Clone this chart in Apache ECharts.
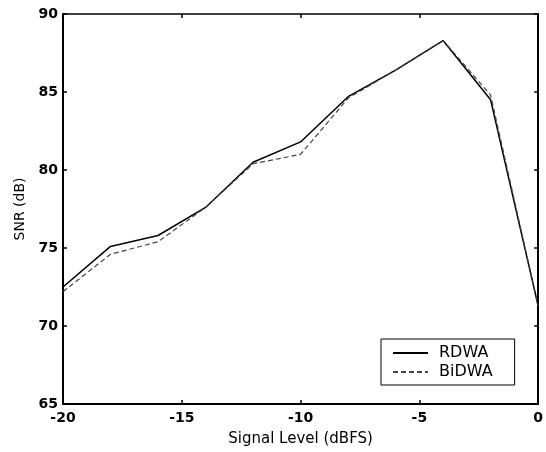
<!DOCTYPE html>
<html>
<head>
<meta charset="utf-8">
<script src="https://cdn.jsdelivr.net/npm/echarts@6/dist/echarts.min.js"></script>
<style>
html,body{margin:0;padding:0;background:#fff;}
#c{width:546px;height:452px;}
</style>
</head>
<body>
<div id="c"></div>
<script>
var levels = [-20, -18, -16, -14, -12, -10, -8, -6, -4, -2, 0];
var rdwa   = [72.5, 75.1, 75.8, 77.6, 80.5, 81.8, 84.7, 86.4, 88.3, 84.5, 71.3];
var bidwa  = [72.2, 74.6, 75.4, 77.6, 80.4, 81.0, 84.6, 86.4, 88.3, 84.8, 71.3];
var xTicks = [-20, -15, -10, -5, 0];
var yTicks = [65, 70, 75, 80, 85, 90];

function pairs(xs, ys){ return xs.map(function(x,i){ return [x, ys[i]]; }); }

var font = 'DejaVu Sans, Liberation Sans, Arial, sans-serif';
var chart = echarts.init(document.getElementById('c'), null, {renderer:'canvas'});
chart.setOption({
  animation: false,
  backgroundColor: '#fff',
  grid: {left: 63, right: 5, top: 14, bottom: 47},
  xAxis: [{
    type: 'value', min: xTicks[0], max: xTicks[xTicks.length-1], interval: 5,
    name: 'Signal Level (dBFS)', nameLocation: 'middle', nameGap: 28,
    nameTextStyle: {fontFamily: font, fontSize: 15, color: '#000'},
    axisLine: {show: true, onZero: false, lineStyle: {color: '#000', width: 2}},
    axisTick: {show: true, inside: true, length: 4, lineStyle: {color: '#000', width: 1.5}},
    axisLabel: {fontFamily: font, fontSize: 14, fontWeight: 'bold', color: '#000', margin: 7},
    splitLine: {show: false}
  }, {
    type: 'value', position: 'top', min: xTicks[0], max: xTicks[xTicks.length-1], interval: 5,
    axisLine: {show: true, onZero: false, lineStyle: {color: '#000', width: 1.5}},
    axisTick: {show: true, inside: true, length: 4, lineStyle: {color: '#000', width: 1.5}},
    axisLabel: {show: false},
    splitLine: {show: false}
  }],
  yAxis: [{
    type: 'value', min: yTicks[0], max: yTicks[yTicks.length-1], interval: 5,
    name: 'SNR (dB)', nameLocation: 'middle', nameGap: 30,
    nameTextStyle: {fontFamily: font, fontSize: 14, color: '#000'},
    axisLine: {show: true, onZero: false, lineStyle: {color: '#000', width: 2}},
    axisTick: {show: true, inside: true, length: 4, lineStyle: {color: '#000', width: 1.5}},
    axisLabel: {fontFamily: font, fontSize: 14, fontWeight: 'bold', color: '#000', margin: 5},
    splitLine: {show: false}
  }, {
    type: 'value', position: 'right', min: yTicks[0], max: yTicks[yTicks.length-1], interval: 5,
    axisLine: {show: true, onZero: false, lineStyle: {color: '#000', width: 2}},
    axisTick: {show: true, inside: true, length: 4, lineStyle: {color: '#000', width: 1.5}},
    axisLabel: {show: false},
    splitLine: {show: false}
  }],
  legend: {
    show: true,
    orient: 'vertical', left: 381, top: 339,
    padding: [6, 22, 5, 11], itemGap: 3, itemWidth: 35, itemHeight: 10,
    borderColor: '#000', borderWidth: 1, backgroundColor: '#fff',
    itemStyle: {opacity: 0},
    textStyle: {fontFamily: font, fontSize: 16, color: '#000', padding: [0, 0, 0, 6]},
    data: ['RDWA', 'BiDWA']
  },
  series: [{
    name: 'RDWA', type: 'line', data: pairs(levels, rdwa),
    symbol: 'none', smooth: false,
    lineStyle: {color: '#000', width: 1.5, type: 'solid'},
    itemStyle: {color: '#000'}
  }, {
    name: 'BiDWA', type: 'line', data: pairs(levels, bidwa),
    symbol: 'none', smooth: false,
    lineStyle: {color: '#444', width: 1.2, type: [5, 3]},
    itemStyle: {color: '#444'}
  }]
});
</script>
</body>
</html>
